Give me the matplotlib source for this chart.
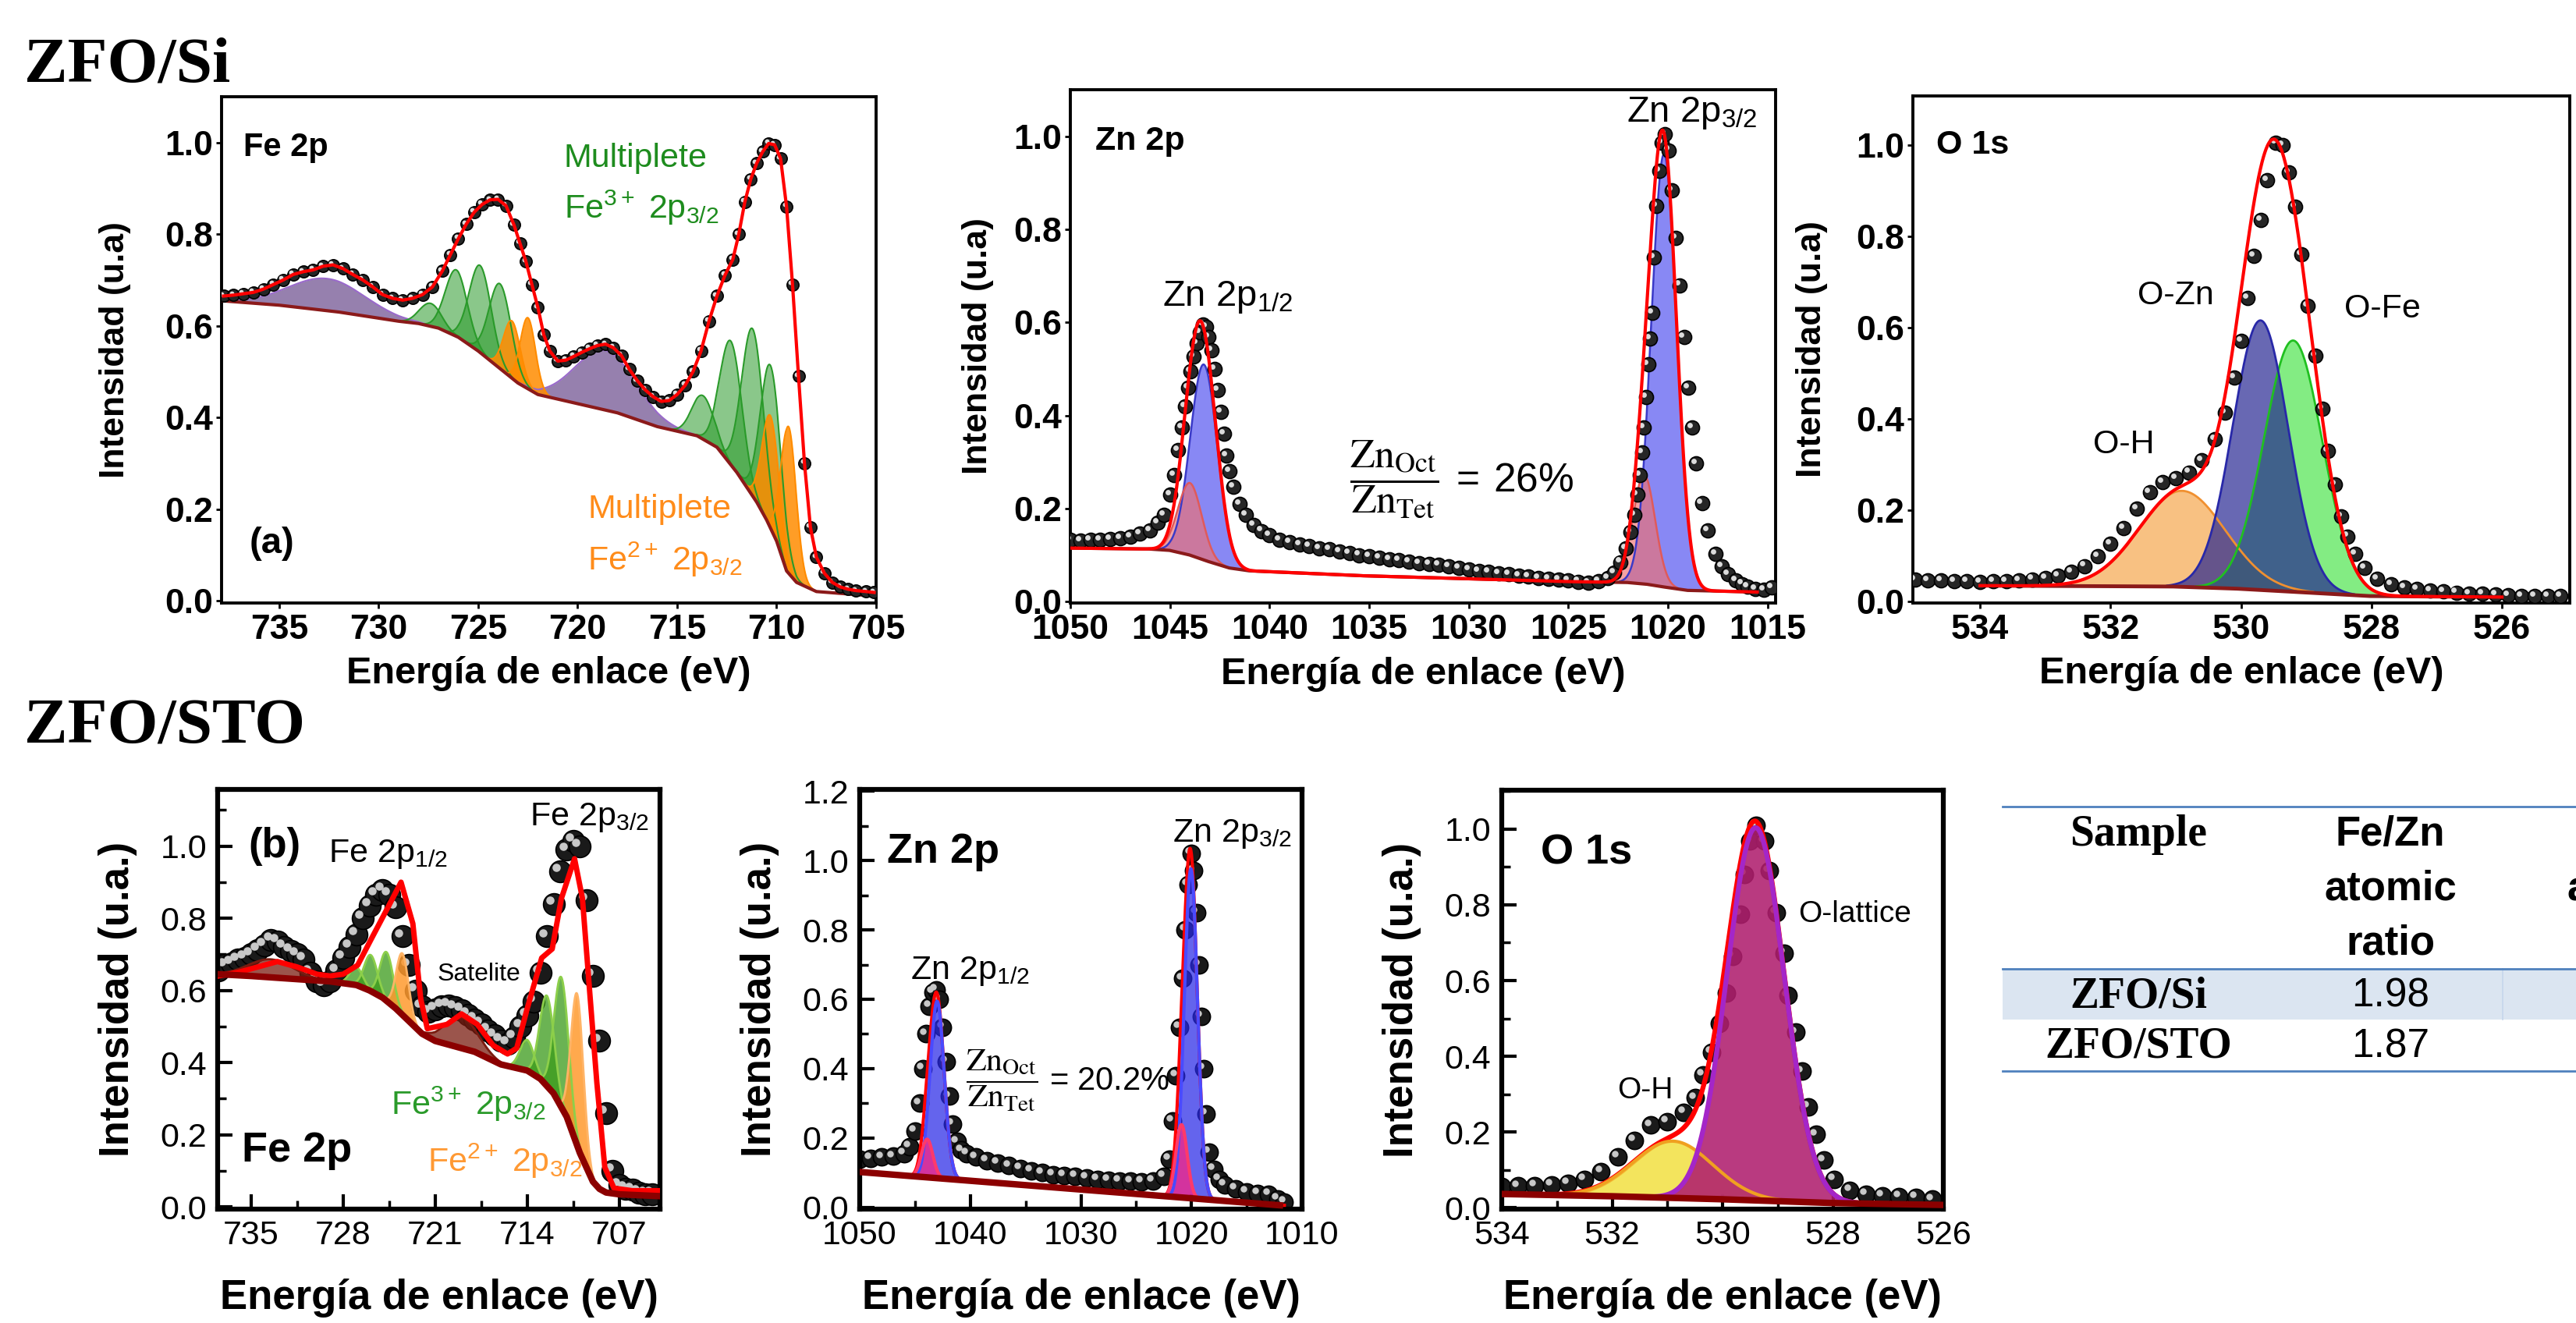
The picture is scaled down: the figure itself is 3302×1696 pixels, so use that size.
import numpy as np
import matplotlib
matplotlib.use("Agg")
import matplotlib.pyplot as plt
import matplotlib.transforms as mtransforms
from matplotlib.ticker import MultipleLocator

plt.rcParams['font.family'] = ['Liberation Sans', 'DejaVu Sans']
plt.rcParams['mathtext.fontset'] = 'custom'
plt.rcParams['mathtext.rm'] = 'Liberation Sans'
plt.rcParams['mathtext.it'] = 'Liberation Sans:italic'
plt.rcParams['mathtext.bf'] = 'Liberation Sans:bold'
plt.rcParams['mathtext.default'] = 'regular'

# ============================================================
# DATA
# ============================================================

# --- ZFO/Si, Fe 2p ---
fe_si_e = [737.8, 737.3, 736.8, 736.3, 735.8, 735.3, 734.8, 734.3, 733.8, 733.3,
           732.8, 732.3, 731.8, 731.3, 730.8, 730.3, 729.8, 729.3, 728.8, 728.3,
           727.8, 727.3, 726.8, 726.4, 726.0, 725.6, 725.2, 724.8, 724.4, 724.0,
           723.6, 723.2, 722.9, 722.6, 722.3, 722.0, 721.7, 721.4, 721.0, 720.6,
           720.2, 719.8, 719.4, 719.0, 718.6, 718.2, 717.8, 717.4, 717.0, 716.6,
           716.2, 715.8, 715.4, 715.0, 714.6, 714.2, 713.8, 713.4, 713.0, 712.6,
           712.2, 711.9, 711.6, 711.3, 711.0, 710.7, 710.4, 710.1, 709.8, 709.5,
           709.2, 708.9, 708.6, 708.3, 708.0, 707.6, 707.2, 706.8, 706.4, 706.0,
           705.5, 705.1]
fe_si_i = [0.665, 0.667, 0.670, 0.673, 0.680, 0.690, 0.700, 0.712, 0.718, 0.722,
           0.730, 0.733, 0.725, 0.712, 0.700, 0.685, 0.668, 0.660, 0.656, 0.660,
           0.668, 0.685, 0.720, 0.755, 0.790, 0.822, 0.848, 0.865, 0.875, 0.876,
           0.862, 0.820, 0.780, 0.740, 0.690, 0.640, 0.580, 0.545, 0.523, 0.525,
           0.533, 0.542, 0.550, 0.557, 0.560, 0.552, 0.535, 0.505, 0.480, 0.460,
           0.445, 0.435, 0.437, 0.450, 0.470, 0.500, 0.545, 0.610, 0.665, 0.710,
           0.745, 0.800, 0.870, 0.920, 0.955, 0.980, 0.998, 0.995, 0.965, 0.860,
           0.690, 0.490, 0.300, 0.160, 0.095, 0.060, 0.040, 0.030, 0.025, 0.022,
           0.020, 0.018]
fe_si_bg_e = [738, 735, 732, 729, 728, 727, 726, 725, 724, 723,
              722, 721, 720, 718, 716, 714, 713, 712, 711, 710.5,
              710, 709.5, 709, 708, 705]
fe_si_bg_i = [0.655, 0.645, 0.630, 0.610, 0.605, 0.595, 0.575, 0.545, 0.510, 0.475,
              0.450, 0.440, 0.430, 0.410, 0.380, 0.360, 0.335, 0.280, 0.215, 0.176,
              0.130, 0.065, 0.040, 0.020, 0.010]
fe_si_pk_center = [732.6, 718.6, 727.4, 726.1, 724.9, 723.9, 723.3, 722.5,
                   713.7, 712.3, 711.2, 710.3, 710.3, 709.4]
fe_si_pk_height = [0.07, 0.13, 0.05, 0.145, 0.19, 0.185, 0.125, 0.155,
                   0.095, 0.27, 0.365, 0.355, 0.245, 0.32]
fe_si_pk_fwhm = [4.5, 3.6, 1.3, 1.3, 1.3, 1.3, 1.0, 0.9,
                 1.3, 1.3, 1.3, 1.2, 1.0, 0.9]
fe_si_pk_kind = ['sat', 'sat', 'fe3', 'fe3', 'fe3', 'fe3', 'fe2', 'fe2',
                 'fe3', 'fe3', 'fe3', 'fe3', 'fe2', 'fe2']

# --- ZFO/Si, Zn 2p ---
zn_si_e = [1050.0, 1049.5, 1049.0, 1048.5, 1048.0, 1047.5, 1047.0, 1046.5, 1046.0, 1045.6,
           1045.3, 1045.0, 1044.8, 1044.6, 1044.4, 1044.25, 1044.1, 1043.95, 1043.8, 1043.65,
           1043.5, 1043.35, 1043.2, 1043.05, 1042.9, 1042.75, 1042.6, 1042.45, 1042.3, 1042.15,
           1042.0, 1041.8, 1041.5, 1041.2, 1040.8, 1040.4, 1040.0, 1039.5, 1039.0, 1038.5,
           1038.0, 1037.5, 1037.0, 1036.5, 1036.0, 1035.5, 1035.0, 1034.5, 1034.0, 1033.5,
           1033.0, 1032.5, 1032.0, 1031.5, 1031.0, 1030.5, 1030.0, 1029.5, 1029.0, 1028.5,
           1028.0, 1027.5, 1027.0, 1026.5, 1026.0, 1025.5, 1025.0, 1024.5, 1024.0, 1023.5,
           1023.0, 1022.7, 1022.4, 1022.1, 1021.9, 1021.7, 1021.55, 1021.4, 1021.3, 1021.2,
           1021.1, 1021.0, 1020.9, 1020.8, 1020.7, 1020.6, 1020.45, 1020.3, 1020.15, 1019.95,
           1019.8, 1019.6, 1019.4, 1019.2, 1019.0, 1018.8, 1018.6, 1018.3, 1018.0, 1017.6,
           1017.3, 1017.0, 1016.6, 1016.3, 1016.0, 1015.6, 1015.2, 1014.8]
zn_si_i = [0.132, 0.131, 0.132, 0.133, 0.134, 0.136, 0.140, 0.146, 0.153, 0.170,
           0.187, 0.230, 0.272, 0.325, 0.374, 0.420, 0.459, 0.495, 0.527, 0.555,
           0.578, 0.596, 0.590, 0.569, 0.540, 0.500, 0.455, 0.408, 0.360, 0.314,
           0.280, 0.246, 0.210, 0.187, 0.165, 0.152, 0.142, 0.133, 0.128, 0.123,
           0.119, 0.115, 0.112, 0.108, 0.104, 0.100, 0.097, 0.094, 0.091, 0.089,
           0.086, 0.083, 0.081, 0.079, 0.076, 0.072, 0.069, 0.066, 0.064, 0.061,
           0.059, 0.056, 0.054, 0.051, 0.049, 0.047, 0.045, 0.043, 0.041, 0.044,
           0.051, 0.062, 0.085, 0.115, 0.150, 0.187, 0.230, 0.272, 0.320, 0.374,
           0.440, 0.510, 0.565, 0.620, 0.739, 0.850, 0.926, 0.986, 1.005, 0.970,
           0.884, 0.782, 0.680, 0.569, 0.459, 0.374, 0.297, 0.212, 0.153, 0.102,
           0.075, 0.059, 0.045, 0.038, 0.032, 0.027, 0.026, 0.030]
zn_si_bg_e = [1050, 1046, 1045, 1044, 1043, 1042, 1041, 1035, 1025, 1022, 1021, 1020, 1019, 1015]
zn_si_bg_i = [0.115, 0.113, 0.110, 0.100, 0.085, 0.072, 0.066, 0.055, 0.043, 0.041,
              0.037, 0.030, 0.024, 0.020]
zn_si_pk_center = [1043.3, 1044.0, 1020.2, 1021.2]
zn_si_pk_height = [0.42, 0.155, 0.93, 0.235]
zn_si_pk_fwhm = [1.6, 1.4, 1.5, 1.3]
zn_si_pk_kind = ['tet', 'oct', 'tet', 'oct']

# --- ZFO/Si, O 1s ---
o_si_e = [535.0, 534.8, 534.6, 534.4, 534.2, 534.0, 533.8, 533.6, 533.4, 533.2,
          533.0, 532.8, 532.6, 532.4, 532.2, 532.0, 531.8, 531.6, 531.4, 531.2,
          531.0, 530.8, 530.6, 530.4, 530.25, 530.1, 530.0, 529.9, 529.8, 529.7,
          529.6, 529.47, 529.36, 529.27, 529.17, 529.07, 528.98, 528.86, 528.75, 528.67,
          528.56, 528.46, 528.37, 528.25, 528.1, 527.91, 527.7, 527.49, 527.3, 527.1,
          526.9, 526.7, 526.5, 526.3, 526.1, 525.9, 525.7, 525.5, 525.3, 525.1]
o_si_i = [0.048, 0.047, 0.046, 0.045, 0.044, 0.043, 0.044, 0.045, 0.047, 0.049,
          0.052, 0.057, 0.065, 0.078, 0.100, 0.126, 0.161, 0.204, 0.239, 0.261,
          0.270, 0.283, 0.309, 0.355, 0.413, 0.490, 0.570, 0.665, 0.757, 0.835,
          0.922, 1.004, 1.000, 0.939, 0.865, 0.760, 0.648, 0.539, 0.422, 0.330,
          0.257, 0.187, 0.143, 0.104, 0.074, 0.050, 0.038, 0.031, 0.027, 0.024,
          0.022, 0.020, 0.018, 0.017, 0.015, 0.014, 0.013, 0.013, 0.013, 0.013]
o_si_bg_e = [534, 531, 530, 529, 528, 526]
o_si_bg_i = [0.035, 0.033, 0.028, 0.020, 0.012, 0.010]
o_si_pk_center = [530.9, 529.2, 529.7]
o_si_pk_height = [0.21, 0.55, 0.59]
o_si_pk_fwhm = [1.55, 1.05, 1.0]
o_si_pk_kind = ['oh', 'ofe', 'ozn']

# --- ZFO/STO, Fe 2p ---
fe_sto_e = [737.5, 737.0, 736.5, 736.0, 735.5, 735.0, 734.5, 734.0, 733.5, 733.0,
            732.5, 732.0, 731.5, 731.0, 730.5, 730.0, 729.5, 729.0, 728.5, 728.0,
            727.5, 727.0, 726.5, 726.0, 725.5, 725.0, 724.5, 724.0, 723.5, 723.0,
            722.5, 722.0, 721.5, 721.0, 720.5, 720.0, 719.5, 719.0, 718.5, 718.0,
            717.5, 717.0, 716.5, 716.0, 715.5, 715.0, 714.5, 714.0, 713.5, 713.0,
            712.5, 712.0, 711.5, 711.0, 710.5, 710.0, 709.5, 709.0, 708.5, 708.0,
            707.5, 707.0, 706.5, 706.0, 705.5, 705.0, 704.5]
fe_sto_i = [0.655, 0.670, 0.675, 0.685, 0.690, 0.700, 0.712, 0.725, 0.740, 0.735,
            0.720, 0.710, 0.700, 0.686, 0.650, 0.625, 0.615, 0.625, 0.655, 0.690,
            0.720, 0.755, 0.800, 0.835, 0.865, 0.878, 0.865, 0.830, 0.750, 0.670,
            0.600, 0.555, 0.540, 0.548, 0.556, 0.558, 0.553, 0.545, 0.532, 0.520,
            0.507, 0.490, 0.475, 0.462, 0.453, 0.470, 0.500, 0.530, 0.570, 0.650,
            0.750, 0.840, 0.930, 0.990, 1.015, 1.000, 0.850, 0.640, 0.460, 0.260,
            0.100, 0.060, 0.050, 0.047, 0.040, 0.035, 0.035]
fe_sto_fit_e = [737.5, 736.0, 734.5, 733.0, 731.5, 730.0, 729.0, 728.0, 726.9, 725.9,
                724.6, 723.6, 722.7, 722.1, 721.6, 720.1, 719.0, 717.8, 716.6, 715.5,
                714.8, 714.0, 712.9, 712.1, 711.4, 710.4, 709.8, 709.3, 708.7, 708.1,
                707.4, 706.0, 704.0]
fe_sto_fit_i = [0.640, 0.650, 0.665, 0.680, 0.665, 0.645, 0.640, 0.645, 0.670, 0.740,
                0.830, 0.900, 0.785, 0.576, 0.494, 0.506, 0.535, 0.506, 0.448, 0.424,
                0.440, 0.550, 0.690, 0.715, 0.855, 0.965, 0.855, 0.620, 0.343, 0.110,
                0.052, 0.045, 0.045]
fe_sto_bg_e = [737.5, 735, 733, 731, 729, 728, 727, 726, 725, 724,
               723, 722, 721, 720, 718, 716, 714, 713, 712, 711,
               710, 709, 708.5, 708, 707, 704]
fe_sto_bg_i = [0.645, 0.640, 0.635, 0.630, 0.625, 0.620, 0.615, 0.600, 0.580, 0.550,
               0.515, 0.480, 0.460, 0.450, 0.430, 0.395, 0.378, 0.355, 0.315, 0.250,
               0.150, 0.070, 0.050, 0.040, 0.035, 0.030]
fe_sto_pk_center = [733.5, 719.0, 727.0, 725.9, 724.7, 723.5, 714.0, 712.5, 711.4, 710.2]
fe_sto_pk_height = [0.05, 0.085, 0.05, 0.10, 0.135, 0.17, 0.085, 0.25, 0.36, 0.42]
fe_sto_pk_fwhm = [4.0, 3.0, 1.2, 1.2, 1.2, 1.1, 1.3, 1.3, 1.3, 1.1]
fe_sto_pk_kind = ['sat', 'sat', 'fe3', 'fe3', 'fe3', 'fe2', 'fe3', 'fe3', 'fe3', 'fe2']

# --- ZFO/STO, Zn 2p ---
zn_sto_e = [1050.0, 1049.0, 1048.0, 1047.0, 1046.0, 1045.5, 1045.0, 1044.6, 1044.3, 1044.0,
            1043.7, 1043.4, 1043.1, 1042.8, 1042.5, 1042.2, 1041.9, 1041.6, 1041.2, 1040.8,
            1040.3, 1039.5, 1038.5, 1037.5, 1036.5, 1035.5, 1034.5, 1033.5, 1032.5, 1031.5,
            1030.5, 1029.5, 1028.5, 1027.5, 1026.5, 1025.5, 1024.5, 1023.5, 1022.5, 1022.0,
            1021.7, 1021.4, 1021.1, 1020.8, 1020.55, 1020.3, 1020.05, 1019.8, 1019.55, 1019.3,
            1019.1, 1018.9, 1018.7, 1018.4, 1018.0, 1017.5, 1017.0, 1016.0, 1015.0, 1014.0,
            1013.0, 1012.2, 1011.6]
zn_sto_i = [0.140, 0.142, 0.145, 0.147, 0.155, 0.175, 0.220, 0.300, 0.400, 0.500,
            0.580, 0.620, 0.627, 0.600, 0.520, 0.420, 0.320, 0.240, 0.190, 0.165,
            0.155, 0.145, 0.135, 0.128, 0.120, 0.112, 0.105, 0.100, 0.095, 0.092,
            0.090, 0.085, 0.080, 0.078, 0.076, 0.075, 0.074, 0.076, 0.090, 0.140,
            0.250, 0.380, 0.520, 0.660, 0.800, 0.930, 1.020, 0.970, 0.850, 0.700,
            0.550, 0.400, 0.270, 0.160, 0.110, 0.080, 0.065, 0.054, 0.045, 0.040,
            0.038, 0.025, 0.016]
zn_sto_bg_e = [1050, 1012]
zn_sto_bg_i = [0.102, 0.006]
zn_sto_pk_center = [1043.0, 1043.9, 1020.05, 1020.9]
zn_sto_pk_height = [0.51, 0.11, 0.95, 0.21]
zn_sto_pk_fwhm = [1.5, 1.2, 1.4, 1.2]
zn_sto_pk_kind = ['tet', 'oct', 'tet', 'oct']

# --- ZFO/STO, O 1s ---
o_sto_e = [534.0, 533.7, 533.4, 533.1, 532.8, 532.5, 532.2, 531.9, 531.6, 531.3,
           531.0, 530.7, 530.5, 530.35, 530.2, 530.05, 529.93, 529.82, 529.68, 529.6,
           529.5, 529.39, 529.24, 529.15, 529.03, 528.88, 528.81, 528.67, 528.56, 528.45,
           528.31, 528.16, 527.98, 527.69, 527.4, 527.1, 526.8, 526.5, 526.2]
o_sto_i = [0.056, 0.057, 0.058, 0.060, 0.065, 0.075, 0.095, 0.134, 0.178, 0.218,
           0.227, 0.252, 0.290, 0.350, 0.410, 0.487, 0.566, 0.664, 0.776, 0.880,
           0.968, 1.010, 0.968, 0.890, 0.780, 0.673, 0.560, 0.463, 0.360, 0.267,
           0.193, 0.125, 0.075, 0.046, 0.035, 0.031, 0.030, 0.027, 0.022]
o_sto_bg_e = [534, 532, 530, 528, 526]
o_sto_bg_i = [0.036, 0.030, 0.022, 0.012, 0.007]
o_sto_pk_center = [530.9, 529.4]
o_sto_pk_height = [0.15, 0.985]
o_sto_pk_fwhm = [1.7, 1.22]
o_sto_pk_kind = ['oh', 'lat']

# --- table ---
table_header = ['Sample', 'Fe/Zn atomic ratio']
table_samples = ['ZFO/Si', 'ZFO/STO']
table_fe_zn = ['1.98', '1.87']

# ============================================================
# HELPERS
# ============================================================

W, H = 3302, 1696
fig = plt.figure(figsize=(W / 100, H / 100), dpi=100)


def box(x0, y0, x1, y1):
    return [x0 / W, 1 - y1 / H, (x1 - x0) / W, (y1 - y0) / H]


def baseline(grid, be, bi):
    be = np.asarray(be, float)
    bi = np.asarray(bi, float)
    o = np.argsort(be)
    return np.interp(grid, be[o], bi[o])


def peak(grid, c, h, w):
    return h * np.exp(-4 * np.log(2) * (grid - c) ** 2 / w ** 2)


def balls(ax, e, i, ms, z, face='#262626', shine='#dcdcdc'):
    ax.plot(e, i, ls='none', marker='o', ms=ms, mfc=face, mec='black',
            mew=1.2, zorder=z)
    tr = mtransforms.offset_copy(ax.transData, fig=fig, x=-0.17 * ms,
                                 y=0.17 * ms, units='points')
    ax.plot(e, i, ls='none', marker='o', ms=0.38 * ms, mfc=shine, mec='none',
            transform=tr, zorder=z + 0.1)


def draw_peaks(ax, grid, bg, centers, heights, widths, kinds, styles, z):
    for c, h, w, k in zip(centers, heights, widths, kinds):
        fc, alpha, ec, lw = styles[k]
        y = bg + peak(grid, c, h, w)
        m = y - bg > 0.002
        ax.fill_between(grid[m], bg[m], y[m], color=fc, alpha=alpha, lw=0,
                        zorder=z)
        ax.plot(grid[m], y[m], color=ec, lw=lw, zorder=z + 0.2)


def fit_sum(grid, bg, centers, heights, widths):
    y = bg.copy()
    for c, h, w in zip(centers, heights, widths):
        y = y + peak(grid, c, h, w)
    return y


def ratio_label(ax, x, y, value, size, gap):
    ax.text(x, y, r'$\dfrac{\mathrm{Zn_{Oct}}}{\mathrm{Zn_{Tet}}}' + gap + '=' + gap
            + value + r'\%$',
            fontsize=size, va='center', math_fontfamily='stix', zorder=7)


def style_top(ax, xlim, ylim, xticks, ylab_x):
    ax.set_xlim(*xlim)
    ax.set_ylim(*ylim)
    ax.set_xticks(xticks)
    ax.set_yticks([0.0, 0.2, 0.4, 0.6, 0.8, 1.0])
    for sp in ax.spines.values():
        sp.set_linewidth(2.8)
    ax.tick_params(direction='out', length=5, width=2, labelsize=32, pad=3)
    ax.tick_params(axis='x', pad=5)
    for lb in ax.get_xticklabels() + ax.get_yticklabels():
        lb.set_fontweight('bold')
    ax.set_xlabel('Energía de enlace (eV)', fontsize=35, fontweight='bold')
    ax.set_ylabel('Intensidad (u.a)', fontsize=32, fontweight='bold')
    ax.xaxis.set_label_coords(0.5, -0.105)
    ax.yaxis.set_label_coords(ylab_x, 0.5)


def style_bottom(ax, xlim, ylim, xticks, xminor, yticks):
    ax.set_xlim(*xlim)
    ax.set_ylim(*ylim)
    ax.set_xticks(xticks)
    ax.set_yticks(yticks)
    ax.xaxis.set_minor_locator(MultipleLocator(xminor))
    ax.yaxis.set_minor_locator(MultipleLocator(0.1))
    for sp in ax.spines.values():
        sp.set_linewidth(4.5)
    ax.tick_params(which='major', direction='in', length=14, width=3,
                   labelsize=31, pad=10)
    ax.tick_params(which='minor', direction='in', length=8, width=2.5)
    ax.set_xlabel('Energía de enlace (eV)', fontsize=38, fontweight='bold')
    ax.set_ylabel('Intensidad (u.a.)', fontsize=38, fontweight='bold')
    ax.xaxis.set_label_coords(0.5, -0.165)
    ax.yaxis.set_label_coords(-0.182, 0.5)


# ============================================================
# TOP ROW: ZFO/Si
# ============================================================

top_styles = {
    'sat': ('#6e4f8f', 0.72, '#9a6acb', 1.5),
    'fe3': ('#2a9a2a', 0.55, '#2a9a2a', 1.5),
    'fe2': ('#ff8c00', 0.85, '#ff8c00', 1.5),
    'tet': ('#5050f0', 0.68, '#3a3ac8', 1.8),
    'oct': ('#f07070', 0.65, '#e05a5a', 1.8),
    'oh': ('#f5a040', 0.65, '#f09030', 2.0),
    'ofe': ('#30e030', 0.60, '#20c020', 2.0),
    'ozn': ('#202090', 0.68, '#2828a8', 2.0),
}

# --- Fe 2p ---
ax1 = fig.add_axes(box(284, 124, 1123, 773))
g1 = np.linspace(705, 738, 1500)
b1 = baseline(g1, fe_si_bg_e, fe_si_bg_i)
draw_peaks(ax1, g1, b1, fe_si_pk_center, fe_si_pk_height, fe_si_pk_fwhm,
           fe_si_pk_kind, top_styles, 2)
ax1.plot(fe_si_bg_e, fe_si_bg_i, color='#8b1a1a', lw=3, zorder=3)
balls(ax1, fe_si_e, fe_si_i, 11, 4)
ax1.plot(fe_si_e, fe_si_i, color='red', lw=3, zorder=6)
style_top(ax1, (737.9, 705.0), (-0.005, 1.10), [735, 730, 725, 720, 715, 710, 705], -0.138)
ax1.text(736.8, 0.99, 'Fe 2p', fontsize=30, fontweight='bold', va='center')
ax1.text(736.5, 0.125, '(a)', fontsize=34, fontweight='bold', va='center')
ax1.text(720.7, 0.966, 'Multiplete', fontsize=31, color='#1e8c1e', va='center')
ax1.text(720.7, 0.857, r'Fe$^{3+}$ 2p$_{3/2}$', fontsize=31, color='#1e8c1e', va='center')
ax1.text(719.5, 0.20, 'Multiplete', fontsize=31, color='#ff8c1a', va='center')
ax1.text(719.5, 0.089, r'Fe$^{2+}$ 2p$_{3/2}$', fontsize=31, color='#ff8c1a', va='center')

# --- Zn 2p ---
ax2 = fig.add_axes(box(1372, 115, 2276, 773))
g2 = np.linspace(1014.6, 1050, 1500)
b2 = baseline(g2, zn_si_bg_e, zn_si_bg_i)
draw_peaks(ax2, g2, b2, zn_si_pk_center, zn_si_pk_height, zn_si_pk_fwhm,
           zn_si_pk_kind, top_styles, 2)
ax2.plot(g2, b2, color='#8b1a1a', lw=3, zorder=3)
balls(ax2, zn_si_e, zn_si_i, 13, 4)
m2 = g2 >= 1015.5
ax2.plot(g2[m2], fit_sum(g2, b2, zn_si_pk_center, zn_si_pk_height, zn_si_pk_fwhm)[m2],
         color='red', lw=3, zorder=6)
style_top(ax2, (1050, 1014.6), (-0.003, 1.10), [1050, 1045, 1040, 1035, 1030, 1025, 1020, 1015], -0.108)
ax2.text(1048.75, 0.99, 'Zn 2p', fontsize=31, fontweight='bold', va='center')
ax2.text(1018.8, 1.05, r'Zn 2p$_{3/2}$', fontsize=34, ha='center', va='center')
ax2.text(1042.1, 0.654, r'Zn 2p$_{1/2}$', fontsize=34, ha='center', va='center')
ratio_label(ax2, 1036.0, 0.263, '26', 37, r'\;')

# --- O 1s ---
ax3 = fig.add_axes(box(2452, 123, 3294, 773))
g3 = np.linspace(526, 534, 1200)
b3 = baseline(g3, o_si_bg_e, o_si_bg_i)
draw_peaks(ax3, g3, b3, o_si_pk_center, o_si_pk_height, o_si_pk_fwhm,
           o_si_pk_kind, top_styles, 2)
ax3.plot(g3, b3, color='#8b1a1a', lw=3.5, zorder=3)
balls(ax3, o_si_e, o_si_i, 13, 4)
ax3.plot(g3, fit_sum(g3, b3, o_si_pk_center, o_si_pk_height, o_si_pk_fwhm),
         color='red', lw=3, zorder=6)
style_top(ax3, (535.03, 524.96), (-0.003, 1.107), [534, 532, 530, 528, 526], -0.129)
ax3.text(534.67, 1.0, 'O 1s', fontsize=31, fontweight='bold', va='center')
ax3.text(531.0, 0.67, 'O-Zn', fontsize=31, ha='center', va='center')
ax3.text(527.83, 0.64, 'O-Fe', fontsize=31, ha='center', va='center')
ax3.text(531.8, 0.343, 'O-H', fontsize=31, ha='center', va='center')

# ============================================================
# BOTTOM ROW: ZFO/STO
# ============================================================

bot_styles = {
    'sat': ('#7a1c10', 0.75, '#7a1c10', 2.0),
    'fe3': ('#3a9a1a', 0.75, '#8ccf4a', 2.0),
    'fe2': ('#ff9a2e', 0.85, '#ffb466', 2.0),
    'tet': ('#2828e6', 0.72, '#4a4aff', 3.0),
    'oct': ('#ff2080', 0.72, '#ff3a6a', 3.0),
    'oh': ('#f2e040', 0.85, '#f0a020', 3.0),
    'lat': ('#b01e6e', 0.88, '#a426c8', 4.5),
}

# --- Fe 2p ---
ax4 = fig.add_axes(box(279, 1012, 846, 1550))
g4 = np.linspace(704, 737.5, 1500)
b4 = baseline(g4, fe_sto_bg_e, fe_sto_bg_i)
balls(ax4, fe_sto_e, fe_sto_i, 20, 2, face='#1a1a1a', shine='#c8c8c8')
draw_peaks(ax4, g4, b4, fe_sto_pk_center, fe_sto_pk_height, fe_sto_pk_fwhm,
           fe_sto_pk_kind, bot_styles, 3)
ax4.plot(fe_sto_fit_e, fe_sto_fit_i, color='red', lw=5, zorder=4,
         solid_joinstyle='round')
ax4.plot(fe_sto_bg_e, fe_sto_bg_i, color='#8b0000', lw=6, zorder=5,
         solid_joinstyle='round')
style_bottom(ax4, (737.55, 703.9), (-0.006, 1.157), [735, 728, 721, 714, 707], 3.5,
             [0.0, 0.2, 0.4, 0.6, 0.8, 1.0])
ax4.text(733.2, 1.0, '(b)', fontsize=38, fontweight='bold', ha='center', va='center')
ax4.text(724.6, 0.977, r'Fe 2p$_{1/2}$', fontsize=31, ha='center', va='center')
ax4.text(709.3, 1.08, r'Fe 2p$_{3/2}$', fontsize=31, ha='center', va='center')
ax4.text(717.7, 0.645, 'Satelite', fontsize=23, ha='center', va='center')
ax4.text(718.5, 0.285, r'Fe$^{3+}$ 2p$_{3/2}$', fontsize=31, color='#2a9a2a',
         ha='center', va='center')
ax4.text(715.7, 0.128, r'Fe$^{2+}$ 2p$_{3/2}$', fontsize=31, color='#ff9933',
         ha='center', va='center')
ax4.text(731.5, 0.157, 'Fe 2p', fontsize=39, fontweight='bold', ha='center', va='center')

# --- Zn 2p ---
ax5 = fig.add_axes(box(1102, 1012, 1669, 1550))
g5 = np.linspace(1011.6, 1050, 1500)
b5 = baseline(g5, zn_sto_bg_e, zn_sto_bg_i)
balls(ax5, zn_sto_e, zn_sto_i, 16, 2, face='#1a1a1a', shine='#c8c8c8')
draw_peaks(ax5, g5, b5, zn_sto_pk_center, zn_sto_pk_height, zn_sto_pk_fwhm,
           zn_sto_pk_kind, bot_styles, 3)
ax5.plot(g5, fit_sum(g5, b5, zn_sto_pk_center, zn_sto_pk_height, zn_sto_pk_fwhm),
         color='red', lw=3, zorder=3.1)
ax5.plot(zn_sto_bg_e, zn_sto_bg_i, color='#8b0000', lw=6, zorder=5)
style_bottom(ax5, (1050, 1010), (-0.005, 1.205), [1050, 1040, 1030, 1020, 1010], 5,
             [0.0, 0.2, 0.4, 0.6, 0.8, 1.0, 1.2])
ax5.text(1047.5, 1.024, 'Zn 2p', fontsize=39, fontweight='bold', va='center')
ax5.text(1016.3, 1.077, r'Zn 2p$_{3/2}$', fontsize=31, ha='center', va='center')
ax5.text(1040.0, 0.68, r'Zn 2p$_{1/2}$', fontsize=31, ha='center', va='center')
ratio_label(ax5, 1040.4, 0.364, '20.2', 30, r'\,')

# --- O 1s ---
ax6 = fig.add_axes(box(1925, 1013, 2491, 1550))
g6 = np.linspace(526, 534, 1200)
b6 = baseline(g6, o_sto_bg_e, o_sto_bg_i)
balls(ax6, o_sto_e, o_sto_i, 16, 2, face='#1a1a1a', shine='#c8c8c8')
ax6.plot(g6, fit_sum(g6, b6, o_sto_pk_center, o_sto_pk_height, o_sto_pk_fwhm),
         color='red', lw=4.5, zorder=2.9)
draw_peaks(ax6, g6, b6, o_sto_pk_center, o_sto_pk_height, o_sto_pk_fwhm,
           o_sto_pk_kind, bot_styles, 3)
ax6.plot(o_sto_bg_e, o_sto_bg_i, color='#8b0000', lw=6, zorder=5)
style_bottom(ax6, (534, 526), (-0.004, 1.103), [534, 532, 530, 528, 526], 1,
             [0.0, 0.2, 0.4, 0.6, 0.8, 1.0])
ax6.text(533.3, 0.938, 'O 1s', fontsize=39, fontweight='bold', va='center')
ax6.text(527.6, 0.776, 'O-lattice', fontsize=28, ha='center', va='center')
ax6.text(531.4, 0.31, 'O-H', fontsize=28, ha='center', va='center')

# ============================================================
# TITLES AND TABLE (pixel coordinates overlay)
# ============================================================

ov = fig.add_axes([0, 0, 1, 1], zorder=-1)
ov.set_xlim(0, W)
ov.set_ylim(H, 0)
ov.axis('off')

ov.text(31, 105, 'ZFO/Si', family='Liberation Serif', fontweight='bold',
        fontsize=60, va='baseline')
ov.text(31, 953, 'ZFO/STO', family='Liberation Serif', fontweight='bold',
        fontsize=60, va='baseline')

BLUE_RULE = '#4f81bd'
ov.add_patch(plt.Rectangle((2567, 1242), W - 2567, 65, color='#dbe5f1', lw=0))
ov.plot([3208, 3208], [1242, 1307], color='#c5d6ec', lw=1.2)
for yy in [1034, 1242, 1373]:
    ov.plot([2567, W], [yy, yy], color=BLUE_RULE, lw=2)

ov.text(2741, 1070, table_header[0], family='Liberation Serif', fontweight='bold',
        fontsize=40, ha='center', va='center')
for k, word in enumerate(table_header[1].split(' ')):
    ov.text(3064, 1070 + 70 * k, word, fontsize=38, fontweight='bold',
            ha='center', va='center')
ov.text(3290, 1140, 'atomic', fontsize=38, fontweight='bold', ha='left', va='center')
for k, (s, v) in enumerate(zip(table_samples, table_fe_zn)):
    yy = 1277 + 65 * k
    ov.text(2741, yy, s, family='Liberation Serif', fontweight='bold',
            fontsize=40, ha='center', va='center')
    ov.text(3064, yy, v, fontsize=37, ha='center', va='center')

fig.savefig('out.png', dpi=100)
